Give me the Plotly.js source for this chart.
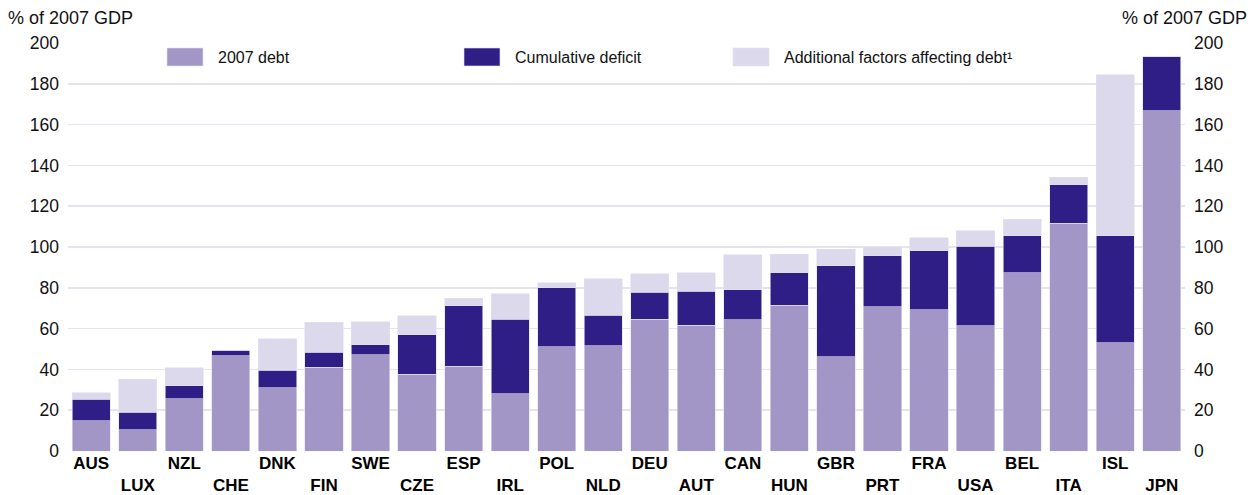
<!DOCTYPE html>
<html>
<head>
<meta charset="utf-8">
<script src="https://cdn.plot.ly/plotly-3.0.1.min.js"></script>
<style>html,body{margin:0;padding:0;background:#fff;}#chart{width:1257px;height:495px;}</style>
</head>
<body>
<div id="chart"></div>
<script>
const countries = ["AUS","LUX","NZL","CHE","DNK","FIN","SWE","CZE","ESP","IRL","POL","NLD","DEU","AUT","CAN","HUN","GBR","PRT","FRA","USA","BEL","ITA","ISL","JPN"];
const debt2007 = [14.8,10.5,25.7,46.7,31.1,41.1,47.3,37.7,41.6,28.0,51.2,51.6,64.7,61.6,64.4,71.5,46.3,70.6,69.3,61.5,87.3,111.6,53.1,166.7];
const cumDeficit = [10.6,8.4,6.3,2.6,8.4,7.4,4.7,19.2,29.6,36.7,28.8,14.9,13.2,16.6,14.6,15.8,44.6,25.0,28.9,38.9,18.2,18.8,52.4,26.6];
const additional = [3.1,16.2,8.8,0,15.6,14.6,11.4,9.3,3.8,12.4,2.4,17.9,9.1,9.1,17.1,9.1,8.1,4.5,6.3,7.5,8.2,3.8,78.9,0];
const seriesNames = ["2007 debt","Cumulative deficit","Additional factors affecting debt¹"];
const seriesColors = ["#A296C7","#2F1E86","#DDD9ED"];
const yTicks = [0,20,40,60,80,100,120,140,160,180,200];
const axisLabel = "% of 2007 GDP";

const idx = countries.map((c,i)=>i);
const tickText = countries.map((c,i)=> i%2===0 ? c : "<br>"+c);
const font = "Liberation Sans, Arial, Helvetica, sans-serif";

const traces = [debt2007, cumDeficit, additional].map((vals,k)=>({
  type:"bar", x: idx, y: vals, name: seriesNames[k],
  marker:{color: seriesColors[k], line:{color:"#E4E0F0", width:0.6}},
  showlegend:false, hoverinfo:"y"
}));
// invisible trace on right axis to show the right-hand tick labels
traces.push({type:"scatter", x:[0], y:[0], yaxis:"y2", mode:"markers", marker:{opacity:0}, showlegend:false, hoverinfo:"skip"});

const legX = [167, 464, 733];
const shapes = [];
const annotations = [];
seriesNames.forEach((n,k)=>{
  shapes.push({type:"rect", xref:"paper", yref:"paper",
    x0:(legX[k]-68)/1117, x1:(legX[k]+36-68)/1117,
    y0:(451-66)/408, y1:(451-48)/408,
    fillcolor: seriesColors[k], line:{width:0.6, color:"#E4E0F0"}});
  annotations.push({xref:"paper", yref:"paper", x:(legX[k]+49-68)/1117, y:(451-57)/408,
    xanchor:"left", yanchor:"middle", showarrow:false, text:n,
    font:{family:font, size:16, color:"#111"}});
});
annotations.push({xref:"paper", yref:"paper", x:(6-68)/1117, y:(451-18)/408, xanchor:"left", yanchor:"middle",
  showarrow:false, text:axisLabel, font:{family:font, size:18, color:"#111"}});
annotations.push({xref:"paper", yref:"paper", x:(1249-68)/1117, y:(451-18)/408, xanchor:"right", yanchor:"middle",
  showarrow:false, text:axisLabel, font:{family:font, size:18, color:"#111"}});

const layout = {
  width:1257, height:495,
  margin:{l:68, r:72, t:43, b:44},
  paper_bgcolor:"#fff", plot_bgcolor:"#fff",
  barmode:"stack", bargap:0.18,
  xaxis:{range:[-0.5, countries.length-0.5], tickmode:"array", tickvals: idx, ticktext: tickText,
    tickfont:{family:font, size:17, color:"#000", weight:"bold"}, showgrid:false, zeroline:false,
    showline:false, ticks:"", fixedrange:true},
  yaxis:{range:[0,200], tickmode:"array", tickvals:yTicks, tickfont:{family:font, size:17.5, color:"#111"},
    ticklabelstandoff:8,
    gridcolor:"#E6E3F1", gridwidth:1.5, zeroline:false, showline:false, ticks:"", fixedrange:true},
  yaxis2:{range:[0,200], overlaying:"y", side:"right", tickmode:"array", tickvals:yTicks,
    ticklabelstandoff:8,
    tickfont:{family:font, size:17.5, color:"#111"}, showgrid:false, zeroline:false, showline:false, ticks:"", fixedrange:true},
  shapes: shapes, annotations: annotations, showlegend:false
};
Plotly.newPlot("chart", traces, layout, {displayModeBar:false, staticPlot:true});
</script>
</body>
</html>
